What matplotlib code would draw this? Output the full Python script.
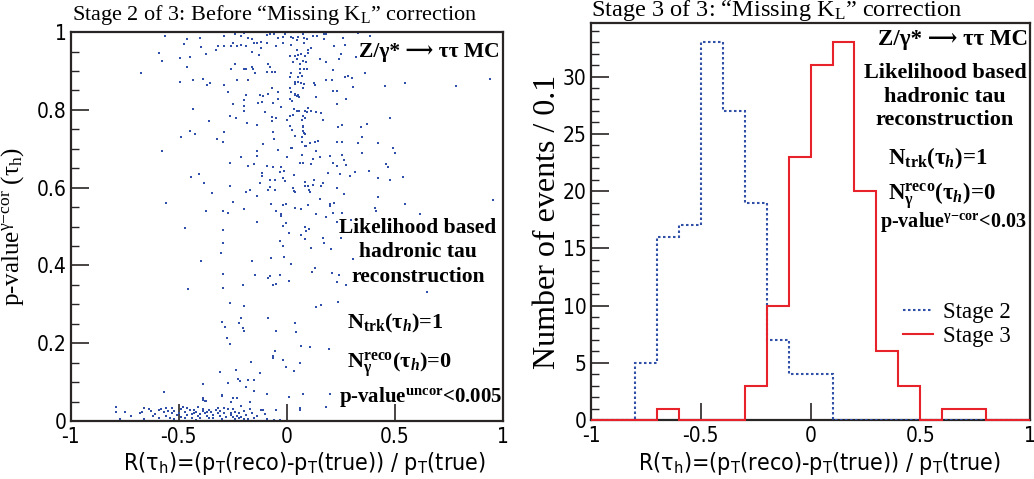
import numpy as np
import matplotlib
matplotlib.use('Agg')
import matplotlib.pyplot as plt
from matplotlib.ticker import MultipleLocator

SANS = ['Liberation Sans Narrow', 'DejaVu Sans']
SERIF = ['Liberation Serif', 'DejaVu Serif', 'DejaVu Sans']

plt.rcParams['font.family'] = SANS
plt.rcParams['font.stretch'] = 'condensed'
plt.rcParams['axes.unicode_minus'] = False
plt.rcParams['mathtext.fontset'] = 'custom'
plt.rcParams['mathtext.rm'] = 'Liberation Serif:bold'
plt.rcParams['mathtext.it'] = 'Liberation Serif:italic:bold'
plt.rcParams['mathtext.bf'] = 'Liberation Serif:bold'

# ---- Stage 2: (R, p-value) pairs ----
pts_left = [
    (-0.565, 0.99), (-0.46, 0.982), (-0.403, 0.985), (-0.477, 0.969), (-0.397, 0.962),
    (-0.59, 0.946), (-0.372, 0.943), (-0.496, 0.934), (-0.45, 0.936), (-0.576, 0.925),
    (-0.463, 0.91), (-0.673, 0.894), (-0.436, 0.878), (-0.386, 0.879), (-0.493, 0.871),
    (-0.368, 0.864), (-0.354, 0.868), (-0.436, 0.801), (-0.359, 0.772), (-0.446, 0.745),
    (-0.426, 0.738), (-0.488, 0.731), (-0.576, 0.694), (-0.406, 0.634), (-0.445, 0.627),
    (-0.383, 0.611), (-0.346, 0.586), (-0.561, 0.561), (-0.372, 0.54), (-0.47, 0.497),
    (-0.397, 0.411), (-0.457, 0.339), (-0.389, 0.094), (-0.567, 0.074), (-0.388, 0.058),
    (-0.376, 0.052),
]

pts_upper = [
    (-0.29, 0.99), (-0.24, 0.995), (-0.21, 0.99), (-0.20, 0.998), (-0.18, 0.986),
    (-0.16, 0.981), (-0.14, 0.972), (-0.12, 0.975), (-0.09, 0.972), (-0.09, 0.993),
    (-0.08, 0.995), (-0.06, 0.995), (-0.04, 0.984), (-0.02, 0.988), (-0.01, 0.996),
    (0.02, 0.988), (0.03, 0.984), (0.045, 0.979), (0.05, 0.988), (0.075, 0.995),
    (0.08, 0.986), (0.095, 0.981), (0.12, 0.99), (0.14, 0.99), (0.17, 0.996),
    (0.18, 0.996), (0.17, 0.981), (0.26, 0.986), (0.33, 0.998),
    (-0.32, 0.964), (-0.29, 0.964), (-0.26, 0.964), (-0.25, 0.972), (-0.23, 0.964),
    (-0.21, 0.966), (-0.19, 0.964), (-0.15, 0.971), (-0.12, 0.958), (-0.05, 0.964),
    (-0.02, 0.972), (0.02, 0.966), (0.045, 0.954), (0.08, 0.971), (0.10, 0.954),
    (0.11, 0.958), (0.22, 0.964), (0.27, 0.966),
    (-0.33, 0.955), (-0.16, 0.949), (-0.13, 0.941), (0.014, 0.938), (0.037, 0.938),
    (0.05, 0.941), (0.065, 0.943), (0.083, 0.938), (0.10, 0.945), (0.25, 0.943),
    (0.32, 0.936),
    (-0.26, 0.906), (-0.24, 0.919), (-0.20, 0.906), (-0.19, 0.904), (-0.16, 0.909),
    (-0.155, 0.906), (-0.145, 0.894), (-0.094, 0.898), (-0.086, 0.918), (-0.08, 0.909),
    (-0.07, 0.898), (-0.055, 0.898), (0.03, 0.924), (0.045, 0.93), (0.06, 0.919),
    (0.075, 0.926), (0.087, 0.924), (0.06, 0.906), (0.08, 0.906), (0.095, 0.906),
    (0.153, 0.93), (0.179, 0.924), (0.24, 0.932),
    (-0.23, 0.876), (-0.18, 0.876), (0.02, 0.894), (0.06, 0.894), (0.068, 0.887),
    (0.052, 0.885), (0.214, 0.902), (0.268, 0.885), (0.284, 0.887), (0.30, 0.881),
    (0.207, 0.878), (0.183, 0.876), (0.126, 0.87), (0.13, 0.864), (0.04, 0.872),
    (0.05, 0.872), (0.037, 0.866), (0.065, 0.868), (0.08, 0.866), (0.014, 0.885),
    (-0.29, 0.864), (-0.27, 0.846), (-0.07, 0.855), (0.014, 0.855), (0.075, 0.855),
    (0.02, 0.846), (0.037, 0.842), (0.052, 0.838), (-0.043, 0.846), (0.214, 0.849),
    (0.234, 0.848), (0.307, 0.859),
    (-0.125, 0.838), (-0.11, 0.835), (-0.086, 0.84), (-0.19, 0.838), (-0.197, 0.825),
    (-0.133, 0.818), (-0.117, 0.821), (-0.063, 0.818), (-0.04, 0.829), (0.014, 0.829),
    (0.025, 0.823), (0.037, 0.838), (0.045, 0.835), (0.058, 0.834), (0.137, 0.834),
    (0.276, 0.827), (0.23, 0.816),
    (-0.248, 0.816), (-0.20, 0.81), (-0.20, 0.798), (-0.10, 0.795), (-0.028, 0.808),
    (0.034, 0.801), (0.045, 0.798), (0.055, 0.798), (0.083, 0.798), (0.095, 0.795),
    (0.114, 0.798), (0.137, 0.795), (0.157, 0.792), (0.03, 0.786), (0.075, 0.784),
    (0.10, 0.806),
    (-0.264, 0.784), (-0.233, 0.78), (-0.07, 0.782), (-0.048, 0.778), (0.014, 0.784),
    (0.003, 0.774), (0.07, 0.775), (0.083, 0.78), (0.168, 0.775), (-0.07, 0.772),
    (-0.186, 0.765), (-0.14, 0.761), (0.014, 0.758), (0.075, 0.758), (0.075, 0.755),
    (0.253, 0.761), (0.237, 0.755), (0.022, 0.748), (0.075, 0.746), (0.08, 0.741),
    (0.086, 0.738),
    (-0.29, 0.744), (-0.066, 0.744), (0.037, 0.733), (0.072, 0.729), (-0.325, 0.724),
    (-0.295, 0.718), (-0.059, 0.724), (0.068, 0.718), (0.106, 0.714), (0.13, 0.718),
    (0.142, 0.72), (0.23, 0.718), (0.256, 0.718), (0.33, 0.714),
    (-0.11, 0.712), (0.019, 0.702), (0.026, 0.702), (0.083, 0.707), (0.091, 0.708),
    (-0.043, 0.698), (-0.136, 0.695), (0.133, 0.695), (-0.21, 0.679), (-0.136, 0.681),
    (0.003, 0.679), (0.071, 0.685), (0.122, 0.675), (0.153, 0.678), (0.199, 0.681),
    (0.256, 0.684), (0.265, 0.671),
    (-0.264, 0.664), (-0.182, 0.655), (-0.151, 0.66), (-0.094, 0.655), (-0.063, 0.652),
    (-0.025, 0.652), (-0.032, 0.641), (-0.012, 0.643), (0.034, 0.632), (0.06, 0.664),
    (0.075, 0.664), (0.114, 0.66), (0.214, 0.664), (0.234, 0.655), (0.273, 0.658),
    (0.19, 0.638), (0.245, 0.635), (0.291, 0.63), (0.314, 0.641),
    (-0.117, 0.638), (-0.117, 0.63), (-0.079, 0.621), (-0.055, 0.619), (-0.017, 0.626),
    (-0.009, 0.618), (-0.122, 0.613), (0.126, 0.619), (0.083, 0.615), (0.083, 0.604),
    (0.096, 0.604), (0.122, 0.607), (0.157, 0.604), (0.168, 0.613), (-0.264, 0.604),
    (-0.171, 0.594), (-0.187, 0.589), (-0.086, 0.595), (-0.079, 0.602), (-0.055, 0.594),
    (0.029, 0.6), (0.034, 0.592), (0.04, 0.588), (0.102, 0.594), (0.106, 0.589),
    (0.23, 0.6), (0.265, 0.583),
    (-0.14, 0.578), (0.153, 0.57), (-0.248, 0.564), (-0.074, 0.558), (-0.02, 0.555),
    (-0.006, 0.558), (0.099, 0.555), (0.199, 0.559), (0.199, 0.553), (0.219, 0.561),
    (-0.197, 0.544), (-0.294, 0.541), (-0.271, 0.535), (-0.052, 0.541), (0.037, 0.549),
    (0.065, 0.544), (0.133, 0.532), (0.183, 0.525), (0.214, 0.534), (0.253, 0.535),
    (-0.025, 0.532), (-0.028, 0.527), (-0.14, 0.512), (-0.002, 0.51), (0.23, 0.512),
    (0.086, 0.499), (0.299, 0.518),
]

pts_right = [
    (0.384, 0.99), (0.449, 0.947), (0.361, 0.894), (0.454, 0.861), (0.549, 0.87),
    (0.782, 0.861), (0.939, 0.879), (0.477, 0.78), (0.343, 0.756), (0.369, 0.763),
    (0.349, 0.731), (0.423, 0.715), (0.489, 0.701), (0.50, 0.69), (0.35, 0.69),
    (0.458, 0.66), (0.466, 0.652), (0.38, 0.643), (0.538, 0.628), (0.42, 0.625),
    (0.477, 0.619), (0.423, 0.577), (0.955, 0.568), (0.549, 0.558), (0.407, 0.547),
    (0.412, 0.54), (0.616, 0.532), (0.65, 0.332),
]

pts_lower = [
    (-0.294, 0.491), (-0.017, 0.502), (0.009, 0.483), (0.086, 0.50), (0.102, 0.494),
    (0.091, 0.489), (0.065, 0.478), (0.086, 0.468), (-0.032, 0.463), (-0.017, 0.451),
    (-0.294, 0.457), (-0.305, 0.431), (0.111, 0.446), (0.168, 0.47), (0.173, 0.457),
    (0.204, 0.442), (0.25, 0.471), (-0.071, 0.418), (-0.012, 0.421), (0.019, 0.405),
    (-0.159, 0.411), (0.13, 0.393), (0.117, 0.384), (0.207, 0.38), (0.241, 0.375),
    (-0.294, 0.377), (-0.148, 0.375), (-0.089, 0.369), (-0.079, 0.374), (-0.032, 0.375),
    (0.009, 0.36), (-0.066, 0.351), (-0.048, 0.352), (0.23, 0.358), (0.276, 0.35),
    (0.304, 0.416), (-0.294, 0.343), (-0.203, 0.351), (-0.264, 0.303), (-0.199, 0.297),
    (0.133, 0.294), (0.157, 0.298), (0.237, 0.305), (-0.213, 0.264), (-0.222, 0.253),
    (-0.089, 0.266), (0.037, 0.253), (-0.299, 0.255), (-0.287, 0.243), (-0.202, 0.238),
    (-0.197, 0.231), (-0.052, 0.231), (0.042, 0.228), (-0.276, 0.213), (-0.265, 0.197),
    (0.065, 0.193), (0.106, 0.19), (0.194, 0.185), (-0.055, 0.18), (-0.063, 0.166),
    (-0.066, 0.161), (-0.168, 0.153), (-0.017, 0.157), (0.06, 0.148), (-0.002, 0.14),
    (0.034, 0.129), (-0.307, 0.127), (-0.237, 0.131), (-0.125, 0.124), (-0.225, 0.107),
    (-0.217, 0.104), (-0.182, 0.106), (-0.151, 0.106), (-0.274, 0.099), (-0.191, 0.088),
    (-0.151, 0.076), (-0.094, 0.07), (0.009, 0.063), (0.076, 0.069), (0.199, 0.069),
    (-0.302, 0.067), (0.06, 0.033), (0.179, 0.037),
]

# dense band of low p-values
pts_cluster = [
    (-0.79, 0.035), (-0.79, 0.022), (-0.75, 0.022), (-0.77, 0.004), (-0.67, 0.024),
    (-0.66, 0.034), (-0.68, 0.020), (-0.66, 0.005), (-0.63, 0.026), (-0.62, 0.014),
    (-0.59, 0.007), (-0.59, 0.028), (-0.58, 0.031), (-0.57, 0.022), (-0.56, 0.033),
    (-0.56, 0.014), (-0.54, 0.007), (-0.53, 0.020), (-0.53, 0.033), (-0.52, 0.026),
    (-0.51, 0.015), (-0.49, 0.011), (-0.49, 0.031), (-0.48, 0.037), (-0.47, 0.024),
    (-0.46, 0.033), (-0.46, 0.015), (-0.45, 0.028), (-0.44, 0.007), (-0.43, 0.020),
    (-0.43, 0.028), (-0.42, 0.022), (-0.41, 0.014), (-0.40, 0.009), (-0.39, 0.026),
    (-0.39, 0.031), (-0.38, 0.020), (-0.37, 0.014), (-0.36, 0.028), (-0.36, 0.007),
    (-0.35, 0.022), (-0.34, 0.015), (-0.33, 0.028), (-0.32, 0.020), (-0.32, 0.033),
    (-0.31, 0.014), (-0.30, 0.005), (-0.29, 0.020), (-0.29, 0.033), (-0.27, 0.031),
    (-0.26, 0.020), (-0.26, 0.015), (-0.25, 0.011), (-0.24, 0.005), (-0.23, 0.014),
    (-0.22, 0.009), (-0.22, 0.020), (-0.21, 0.011), (-0.20, 0.005), (-0.19, 0.015),
    (-0.18, 0.005), (-0.16, 0.020), (-0.15, 0.007), (-0.12, 0.028), (-0.11, 0.028),
    (-0.10, 0.017), (-0.09, 0.005), (-0.06, 0.003), (-0.05, 0.028), (-0.39, 0.054),
    (-0.38, 0.051), (-0.30, 0.065), (-0.26, 0.048), (-0.25, 0.060), (-0.23, 0.060),
    (-0.21, 0.039), (-0.17, 0.050), (0.01, 0.063), (-0.03, 0.003), (0.06, 0.028),
    (-0.64, 0.030), (-0.61, 0.019), (-0.55, 0.025), (-0.50, 0.021), (-0.47, 0.009),
    (-0.44, 0.017), (-0.41, 0.035), (-0.40, 0.019), (-0.37, 0.024), (-0.34, 0.009),
    (-0.31, 0.026), (-0.28, 0.011), (-0.25, 0.030), (-0.24, 0.022), (-0.20, 0.026),
    (-0.14, 0.012), (-0.72, 0.012), (-0.52, 0.004), (-0.42, 0.003), (-0.17, 0.030),
]

all_pts = np.array(pts_left + pts_upper + pts_right + pts_lower + pts_cluster)

# ---- Stage 2 / Stage 3 histograms, bins of 0.1 in [-1, 1] ----
bin_edges = np.round(np.arange(-1.0, 1.01, 0.1), 2)
stage2_counts = [0, 0, 5, 16, 17, 33, 27, 19, 7, 4, 4, 0, 0, 0, 0, 0, 0, 0, 0, 0]
stage3_counts = [0, 0, 0, 1, 0, 0, 0, 3, 10, 23, 31, 33, 20, 6, 3, 0, 1, 1, 0, 0]

x_ticks = [-1, -0.5, 0, 0.5, 1]
x_ticklabels = ['-1', '-0.5', '0', '0.5', '1']
p_ticks = [0, 0.2, 0.4, 0.6, 0.8, 1]
p_ticklabels = ['0', '0.2', '0.4', '0.6', '0.8', '1']
n_ticks = [0, 5, 10, 15, 20, 25, 30]

BLUE = '#2f4fa8'
RED = '#e8222b'
FRAME = '#2a2525'

xlabel = (r'R(τ$_\mathregular{h}$)=(p$_\mathregular{T}$(reco)-p$_\mathregular{T}$(true))'
          r' / p$_\mathregular{T}$(true)')

fig = plt.figure(figsize=(10.34, 4.79), dpi=100)
ax1 = fig.add_axes([0.0684, 0.121, 0.418, 0.812])
ax2 = fig.add_axes([0.5716, 0.1232, 0.4246, 0.828])


def style_axes(ax, label_x):
    for s in ax.spines.values():
        s.set_color(FRAME)
        s.set_linewidth(1.6)
    ax.tick_params(which='both', direction='in', top=False, right=False,
                   color=FRAME, labelsize=15)
    ax.tick_params(axis='y', which='major', length=13, width=1.2, pad=3)
    ax.tick_params(axis='y', which='minor', length=6, width=1.0)
    ax.tick_params(axis='x', which='major', length=12, width=1.2, pad=4)
    ax.tick_params(axis='x', which='minor', length=0)
    ax.set_xlim(-1, 1)
    ax.set_xticks(x_ticks)
    ax.set_xticklabels(x_ticklabels)
    ax.set_xlabel(xlabel, fontsize=16.7, labelpad=3)
    ax.xaxis.set_label_coords(label_x, -0.075, transform=ax.transAxes)
    ax.xaxis.label.set_va('top')


# left: scatter
style_axes(ax1, 0.54)
ax1.scatter(all_pts[:, 0], all_pts[:, 1], s=2.2, marker='s', c=BLUE,
            linewidths=0, zorder=2)
ax1.set_ylim(0, 1)
ax1.set_yticks(p_ticks)
ax1.set_yticklabels(p_ticklabels)
ax1.yaxis.set_minor_locator(MultipleLocator(0.05))
ax1.set_ylabel(r'p-value$^{\mathregular{γ{-}cor}}$ (τ$_\mathregular{h}$)',
               family=SERIF, fontsize=18, labelpad=8)

# right: histograms
style_axes(ax2, 0.52)
ax2.stairs(stage2_counts, bin_edges, color=BLUE, ls=(0, (1.2, 1.2)), lw=1.5,
           label='Stage 2', zorder=3)
ax2.stairs(stage3_counts, bin_edges, color=RED, lw=1.5, label='Stage 3',
           zorder=4, clip_on=False)
ax2.set_ylim(0, 1.05 * max(max(stage2_counts), max(stage3_counts)))
ax2.set_yticks(n_ticks)
ax2.yaxis.set_minor_locator(MultipleLocator(1))
ax2.set_ylabel('Number of events / 0.1', family=SERIF, fontsize=23, labelpad=1)
ax2.legend(loc='upper left', bbox_to_anchor=(0.69, 0.32), frameon=False,
           prop={'family': SERIF, 'size': 16.5}, handlelength=1.3,
           handletextpad=0.45, labelspacing=0.1, borderaxespad=0)

# titles above each panel
fig.text(0.070, 0.969, r'Stage 2 of 3: Before “Missing K$_\mathregular{L}$” correction',
         family=SERIF, fontsize=16, va='center', ha='left')
fig.text(0.572, 0.979, r'Stage 3 of 3: “Missing K$_\mathregular{L}$” correction',
         family=SERIF, fontsize=17.6, va='center', ha='left')

bold = dict(family=SERIF, fontweight='bold', fontsize=15.5)
arrow_title = 'Z/γ* ⟶ ττ MC'

# left panel labels
ax1.text(0.993, 0.975, arrow_title, ha='right', va='top', transform=ax1.transAxes,
         **dict(bold, fontsize=15.5))
ax1.text(0.803, 0.434, 'Likelihood based\nhadronic tau\nreconstruction', ha='center',
         va='center', linespacing=1.3, transform=ax1.transAxes, **bold)
ax1.text(0.639, 0.252, r'N$_\mathregular{trk}$(τ$_{\mathit{h}}$)=1', ha='left', va='center',
         transform=ax1.transAxes, **dict(bold, fontsize=16))
ax1.text(0.639, 0.144, r'N$_\mathregular{γ}^\mathregular{reco}$(τ$_{\mathit{h}}$)=0', ha='left',
         va='center', transform=ax1.transAxes, **dict(bold, fontsize=16))
ax1.text(0.621, 0.062, r'p-value$^\mathregular{uncor}$<0.005', ha='left', va='center',
         transform=ax1.transAxes, **dict(bold, fontsize=15))

# right panel labels
ax2.text(0.995, 0.985, arrow_title, ha='right', va='top', transform=ax2.transAxes,
         **dict(bold, fontsize=16.5))
ax2.text(0.806, 0.815, 'Likelihood based\nhadronic tau\nreconstruction', ha='center',
         va='center', linespacing=1.25, transform=ax2.transAxes, **dict(bold, fontsize=16))
ax2.text(0.677, 0.66, r'N$_\mathregular{trk}$(τ$_{\mathit{h}}$)=1', ha='left', va='center',
         transform=ax2.transAxes, **dict(bold, fontsize=16.5))
ax2.text(0.677, 0.567, r'N$_\mathregular{γ}^\mathregular{reco}$(τ$_{\mathit{h}}$)=0', ha='left',
         va='center', transform=ax2.transAxes, **dict(bold, fontsize=16.5))
ax2.text(0.658, 0.50, r'p-value$^\mathregular{γ{-}cor}$<0.03', ha='left', va='center',
         transform=ax2.transAxes, **dict(bold, fontsize=14.5))

fig.savefig('out.png', dpi=100)
